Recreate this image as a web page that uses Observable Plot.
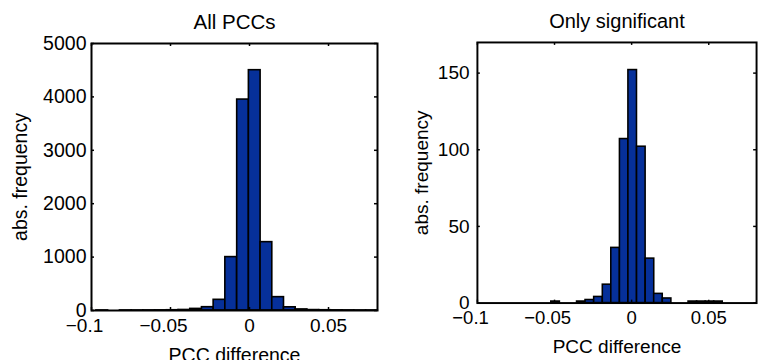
<!DOCTYPE html>
<html><head><meta charset="utf-8">
<script src="https://cdn.jsdelivr.net/npm/d3@7"></script>
<script src="https://cdn.jsdelivr.net/npm/@observablehq/plot@0.6"></script>
<style>
html,body{margin:0;padding:0;background:#fff;overflow:hidden}
#wrap{position:relative;width:759px;height:360px;overflow:hidden;background:#fff}
.panel{position:absolute;top:0}
</style></head><body>
<div id="wrap"><div class="panel" id="p1" style="left:0px"></div><div class="panel" id="p2" style="left:380px"></div></div>
<script>
const xTicks = [-0.1, -0.05, 0, 0.05];
const xTickLabels = ["−0.1", "−0.05", "0", "0.05"];

// Left panel: All PCCs
const allBinStart = [-0.0969, -0.0894, -0.0820, -0.0746, -0.0672, -0.0598, -0.0523, -0.0449,
  -0.0375, -0.0301, -0.0227, -0.0153, -0.0078, -0.0004, 0.0070, 0.0144, 0.0218, 0.0292,
  0.0367, 0.0441, 0.0515, 0.0589, 0.0664, 0.0738];
const allBinWidth = 0.00742;
const allCounts = [1, 0, 1, 1, 2, 3, 5, 10, 30, 62, 200, 1000, 3950, 4500, 1280, 250, 60, 20,
  8, 5, 3, 2, 1, 1];
const allYTicks = [0, 1000, 2000, 3000, 4000, 5000];

// Right panel: Only significant
const sigBinStart = [-0.0521, -0.0465, -0.0410, -0.0354, -0.0299, -0.0243, -0.0187, -0.0132,
  -0.0076, -0.0021, 0.0035, 0.0091, 0.0146, 0.0202, 0.0257, 0.0313, 0.0369, 0.0424, 0.0480, 0.0535];
const sigBinWidth = 0.00556;
const sigCounts = [1, 0, 0, 1, 2, 4, 12, 36, 107, 152, 102, 29, 6, 3, 0, 0, 1, 1, 1, 1];
const sigYTicks = [0, 50, 100, 150];

function panel({title, starts, binWidth, counts, yTicks, yMax, mLeft, yLabelDx, yTickPad}) {
  const W = 286, H = 267;
  const bins = starts.map((s, i) => ({x1: s, x2: s + binWidth, y: counts[i]}));
  const ticks = xTicks.map((v, i) => ({v, label: xTickLabels[i]}));
  return Plot.plot({
    width: mLeft + W + 3, height: 360,
    marginLeft: mLeft, marginRight: 3, marginTop: 43, marginBottom: 50,
    style: {fontFamily: "'Liberation Sans', Arial, sans-serif", fontSize: "19px", background: "white", color: "black", overflow: "visible"},
    x: {domain: [-0.1, 0.081], axis: null},
    y: {domain: [0, yMax], axis: null},
    marks: [
      Plot.rectY(bins, {x1: "x1", x2: "x2", y: "y", fill: "#06309a", stroke: "black", strokeWidth: 1.6}),
      Plot.frame({stroke: "black", strokeWidth: 2}),
      Plot.ruleX(xTicks, {x: d => d, insetTop: H - 3, stroke: "black", strokeWidth: 1.5}),
      Plot.ruleX(xTicks, {x: d => d, insetBottom: H - 3, stroke: "black", strokeWidth: 1.5}),
      Plot.ruleY(yTicks, {y: d => d, insetLeft: W - 3, stroke: "black", strokeWidth: 1.5}),
      Plot.ruleY(yTicks, {y: d => d, insetRight: W - 3, stroke: "black", strokeWidth: 1.5}),
      Plot.axisY(yTicks, {anchor: "left", tickSize: 0, tickPadding: yTickPad, tickFormat: d => String(d), label: null, fill: "black", fontSize: 19.5}),
      Plot.text(ticks.filter(d => d.v < 0), {x: "v", text: "label", frameAnchor: "bottom", textAnchor: "middle", lineAnchor: "top", dy: 8, dx: -7, fill: "black", fontSize: 19}),
      Plot.text(ticks.filter(d => d.v >= 0), {x: "v", text: "label", frameAnchor: "bottom", textAnchor: "middle", lineAnchor: "top", dy: 8, fill: "black", fontSize: 19}),
      Plot.text([title], {text: d => d, frameAnchor: "top", textAnchor: "middle", lineAnchor: "middle", dy: -21.4, fill: "black", fontSize: 20.5}),
      Plot.text(["PCC difference"], {text: d => d, frameAnchor: "bottom", textAnchor: "middle", lineAnchor: "middle", dy: 45, fill: "black", fontSize: 19.5}),
      Plot.text(["abs. frequency"], {text: d => d, frameAnchor: "left", textAnchor: "middle", rotate: -90, lineAnchor: "middle", dx: yLabelDx, fill: "black", fontSize: 19.5})
    ]
  });
}

document.getElementById("p1").appendChild(panel({
  title: "All PCCs", starts: allBinStart, binWidth: allBinWidth, counts: allCounts,
  yTicks: allYTicks, yMax: 5000, mLeft: 91, yLabelDx: -71, yTickPad: 5
}));
document.getElementById("p2").appendChild(panel({
  title: "Only significant", starts: sigBinStart, binWidth: sigBinWidth, counts: sigCounts,
  yTicks: sigYTicks, yMax: 170, mLeft: 99.3, yLabelDx: -57, yTickPad: 8
}));
</script>
</body></html>
